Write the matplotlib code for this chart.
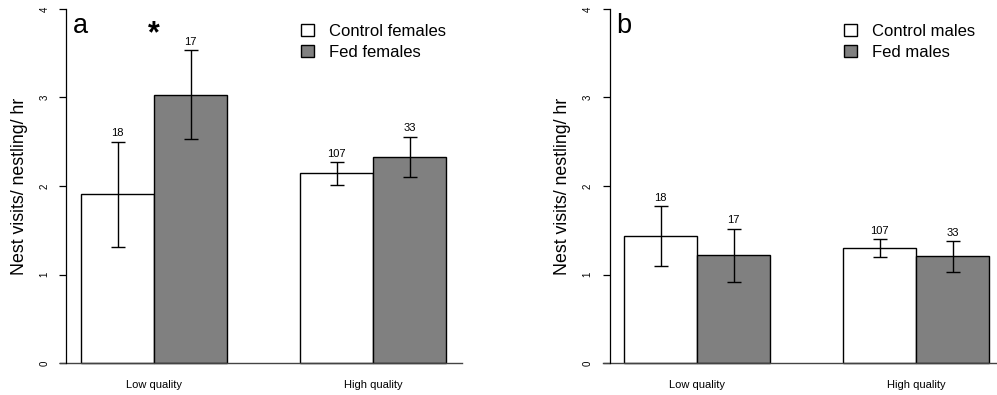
import matplotlib
matplotlib.use("Agg")
import matplotlib.pyplot as plt
from matplotlib.patches import Patch

plt.rcParams['font.family'] = ['Liberation Sans', 'DejaVu Sans']

# Nest visit rates (mean +/- SE) by territory quality and treatment
groups = ["Low quality", "High quality"]
fem_control = [1.906, 2.143]
fem_control_se = [0.592, 0.128]
fem_fed = [3.032, 2.328]
fem_fed_se = [0.502, 0.228]
male_control = [1.435, 1.296]
male_control_se = [0.338, 0.100]
male_fed = [1.217, 1.206]
male_fed_se = [0.298, 0.172]
n_control = [18, 107]
n_fed = [17, 33]

W, H = 997, 395
fig = plt.figure(figsize=(W / 100, H / 100), dpi=100)

# bar left edges (R barplot layout: space=c(0,1))
ctrl_x = [1, 4]
fed_x = [2, 5]


def panel(left_px, ctrl, ctrl_se, fed, fed_se, letter, leg_labels):
    ax = fig.add_axes([left_px / W, 17.8 / H, 394.2 / W, 382.4 / H])
    ax.set_xlim(0.8, 6.2)
    ax.set_ylim(-0.16, 4.16)
    ax.bar(ctrl_x, ctrl, width=1, align='edge', color='white',
           edgecolor='black', linewidth=1, label=leg_labels[0])
    ax.bar(fed_x, fed, width=1, align='edge', color='#808080',
           edgecolor='black', linewidth=1, label=leg_labels[1])
    cx = [x + 0.5 for x in ctrl_x]
    fx = [x + 0.5 for x in fed_x]
    ax.errorbar(cx, ctrl, yerr=ctrl_se, fmt='none', ecolor='black',
                elinewidth=1, capsize=5, capthick=1)
    ax.errorbar(fx, fed, yerr=fed_se, fmt='none', ecolor='black',
                elinewidth=1, capsize=5, capthick=1)
    for x, m, s, n in zip(cx + fx, ctrl + fed, ctrl_se + fed_se, n_control + n_fed):
        ax.annotate(str(n), (x, m + s), xytext=(0, 2.5), textcoords='offset points',
                    ha='center', va='bottom', fontsize=8)
    # baseline
    ax.plot([0.71, 6.22], [0, 0], color='#444444', linewidth=1, clip_on=False)

    for s in ['top', 'right', 'bottom']:
        ax.spines[s].set_visible(False)
    ax.spines['left'].set_bounds(0, 4)
    ax.spines['left'].set_linewidth(0.9)
    ax.set_yticks([0, 1, 2, 3, 4])
    ax.set_yticklabels(['0', '1', '2', '3', '4'], rotation=90, va='center', fontsize=7)
    ax.tick_params(axis='y', length=5.3, width=0.9, pad=7)
    ax.set_xticks([2, 5])
    ax.set_xticklabels(groups, fontsize=8)
    ax.tick_params(axis='x', length=0, pad=2)
    ax.text(-0.12, 0.5, "Nest visits/ nestling/ hr", transform=ax.transAxes,
            rotation=90, ha='center', va='center', fontsize=12.8)
    ax.text(0.895, 3.81, letter, fontsize=19.5, ha='left', va='center')
    handles = [Patch(facecolor='white', edgecolor='black', linewidth=1),
               Patch(facecolor='#808080', edgecolor='black', linewidth=1)]
    ax.legend(handles, leg_labels, loc='upper left', frameon=False, fontsize=12,
              bbox_to_anchor=((left_px + 234.3) / W, 1 - 24 / H),
              bbox_transform=fig.transFigure, borderpad=0, borderaxespad=0,
              handlelength=0.77, handleheight=0.77, handletextpad=0.9,
              labelspacing=0.35)
    return ax


ax_a = panel(66.4, fem_control, fem_control_se, fem_fed, fem_fed_se, "a",
             ["Control females", "Fed females"])
ax_a.text(2.0, 3.71, "*", fontsize=22, ha='center', va='center', fontweight='bold')

ax_b = panel(609.6, male_control, male_control_se, male_fed, male_fed_se, "b",
             ["Control males", "Fed males"])

fig.savefig("out.png", dpi=100)
